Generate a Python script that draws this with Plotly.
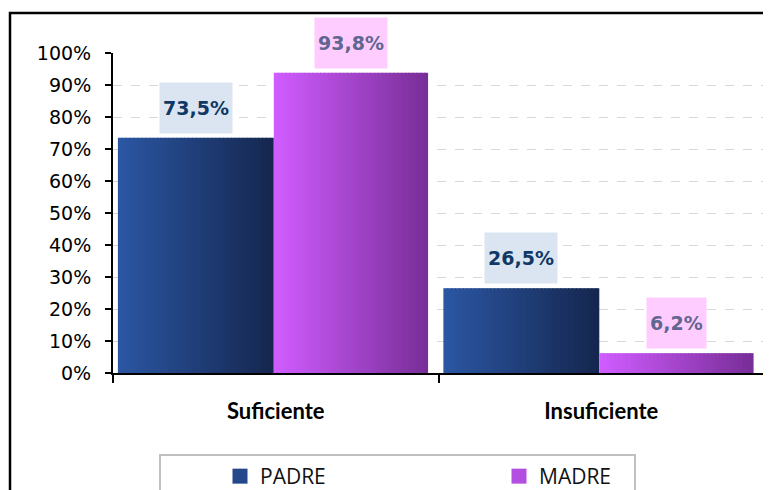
import plotly.graph_objects as go

# ---- data ----
categories = ["Suficiente", "Insuficiente"]
series_names = ["PADRE", "MADRE"]
padre_values = [73.5, 26.5]
madre_values = [93.8, 6.2]
y_ticks = [0, 10, 20, 30, 40, 50, 60, 70, 80, 90, 100]
y_tick_labels = ["0%", "10%", "20%", "30%", "40%", "50%", "60%", "70%", "80%", "90%", "100%"]

# ---- layout geometry (page pixels; the page body has an 8px margin) ----
OFF = 8
W, H = 771 - OFF, 490 - OFF
PLOT_L, PLOT_R, PLOT_T, PLOT_B = 113, 764, 53, 373   # page pixels
ML, MR = PLOT_L - OFF, W - (PLOT_R - OFF)
MT, MB = PLOT_T - OFF, H - (PLOT_B - OFF)
PW, PH = PLOT_R - PLOT_L, PLOT_B - PLOT_T

def px_x(p):
    return (p - PLOT_L) / PW

def px_y(p):
    return (PLOT_B - p) / PH

series = [
    dict(name=series_names[0], values=padre_values, start=-0.485, width=0.479,
         c0=(43, 86, 162), c1=(21, 39, 79), legend="#25488a",
         box="#dbe5f1", txt="#0f3865"),
    dict(name=series_names[1], values=madre_values, start=-0.006, width=0.474,
         c0=(208, 92, 255), c1=(120, 46, 152), legend="#b24fe0",
         box="#ffccff", txt="#5f6690"),
]

N = 40
fig = go.Figure()
for s in series:
    step = s["width"] / N
    for i in range(N):
        t = i / (N - 1)
        col = tuple(round(s["c0"][k] + (s["c1"][k] - s["c0"][k]) * t) for k in range(3))
        w = step + (0.003 if i < N - 1 else 0)
        fig.add_trace(go.Bar(
            x=categories, y=s["values"],
            offset=s["start"] + i * step, width=w,
            marker=dict(color="rgb(%d,%d,%d)" % col, line=dict(width=0)),
            showlegend=False, hoverinfo="skip",
        ))

for s in series:
    fig.add_trace(go.Scatter(
        x=[None], y=[None], mode="markers", name=s["name"],
        marker=dict(symbol="square", size=15, color=s["legend"]),
    ))

annotations = []
for s in series:
    center = s["start"] + s["width"] / 2
    for ci, v in enumerate(s["values"]):
        annotations.append(dict(
            x=ci + center, y=v, xref="x", yref="y",
            text=("%.1f%%" % v).replace(".", ","),
            showarrow=False, yanchor="bottom", yshift=4,
            bgcolor=s["box"], height=44, borderpad=3,
            font=dict(family="DejaVu Sans", size=19, color=s["txt"], weight="bold"),
        ))

shapes = [
    # outer chart border
    dict(type="rect", xref="paper", yref="paper",
         x0=px_x(10), x1=1.2, y0=px_y(13), y1=-0.6,
         line=dict(color="black", width=2.5), fillcolor="rgba(0,0,0,0)", layer="below"),
    # legend box
    dict(type="rect", xref="paper", yref="paper",
         x0=px_x(160), x1=px_x(635), y0=px_y(455), y1=-0.6,
         line=dict(color="#c0c0c0", width=2), fillcolor="rgba(0,0,0,0)"),
]

fig.update_layout(
    width=W, height=H,
    margin=dict(l=ML, r=MR, t=MT, b=MB, autoexpand=False),
    paper_bgcolor="white", plot_bgcolor="white",
    barmode="overlay",
    annotations=annotations,
    shapes=shapes,
    showlegend=True,
    legend=dict(
        orientation="h", x=px_x(220), y=px_y(456), xanchor="left", yanchor="top",
        entrywidth=234, entrywidthmode="pixels",
        font=dict(family="Open Sans", size=21, color="#111111"),
        bgcolor="rgba(0,0,0,0)", borderwidth=0,
    ),
    xaxis=dict(
        type="category", range=[-0.5, 1.5],
        showline=True, linecolor="black", linewidth=2,
        ticks="outside", tickson="boundaries", ticklen=8, tickwidth=2, tickcolor="black",
        tickfont=dict(family="Lato", size=22, color="black", weight="bold"),
        ticklabelstandoff=18,
        showgrid=False, zeroline=False, fixedrange=True,
    ),
    yaxis=dict(
        range=[0, 100], tickmode="array", tickvals=y_ticks, ticktext=y_tick_labels,
        showline=True, linecolor="black", linewidth=2,
        ticks="outside", ticklen=6, tickwidth=2, tickcolor="black",
        tickfont=dict(family="DejaVu Sans", size=19, color="black"),
        ticklabelstandoff=10,
        showgrid=True, gridcolor="#d9d9d9", gridwidth=1, griddash="dash",
        zeroline=False, fixedrange=True,
    ),
)

fig.write_html("out.html")
